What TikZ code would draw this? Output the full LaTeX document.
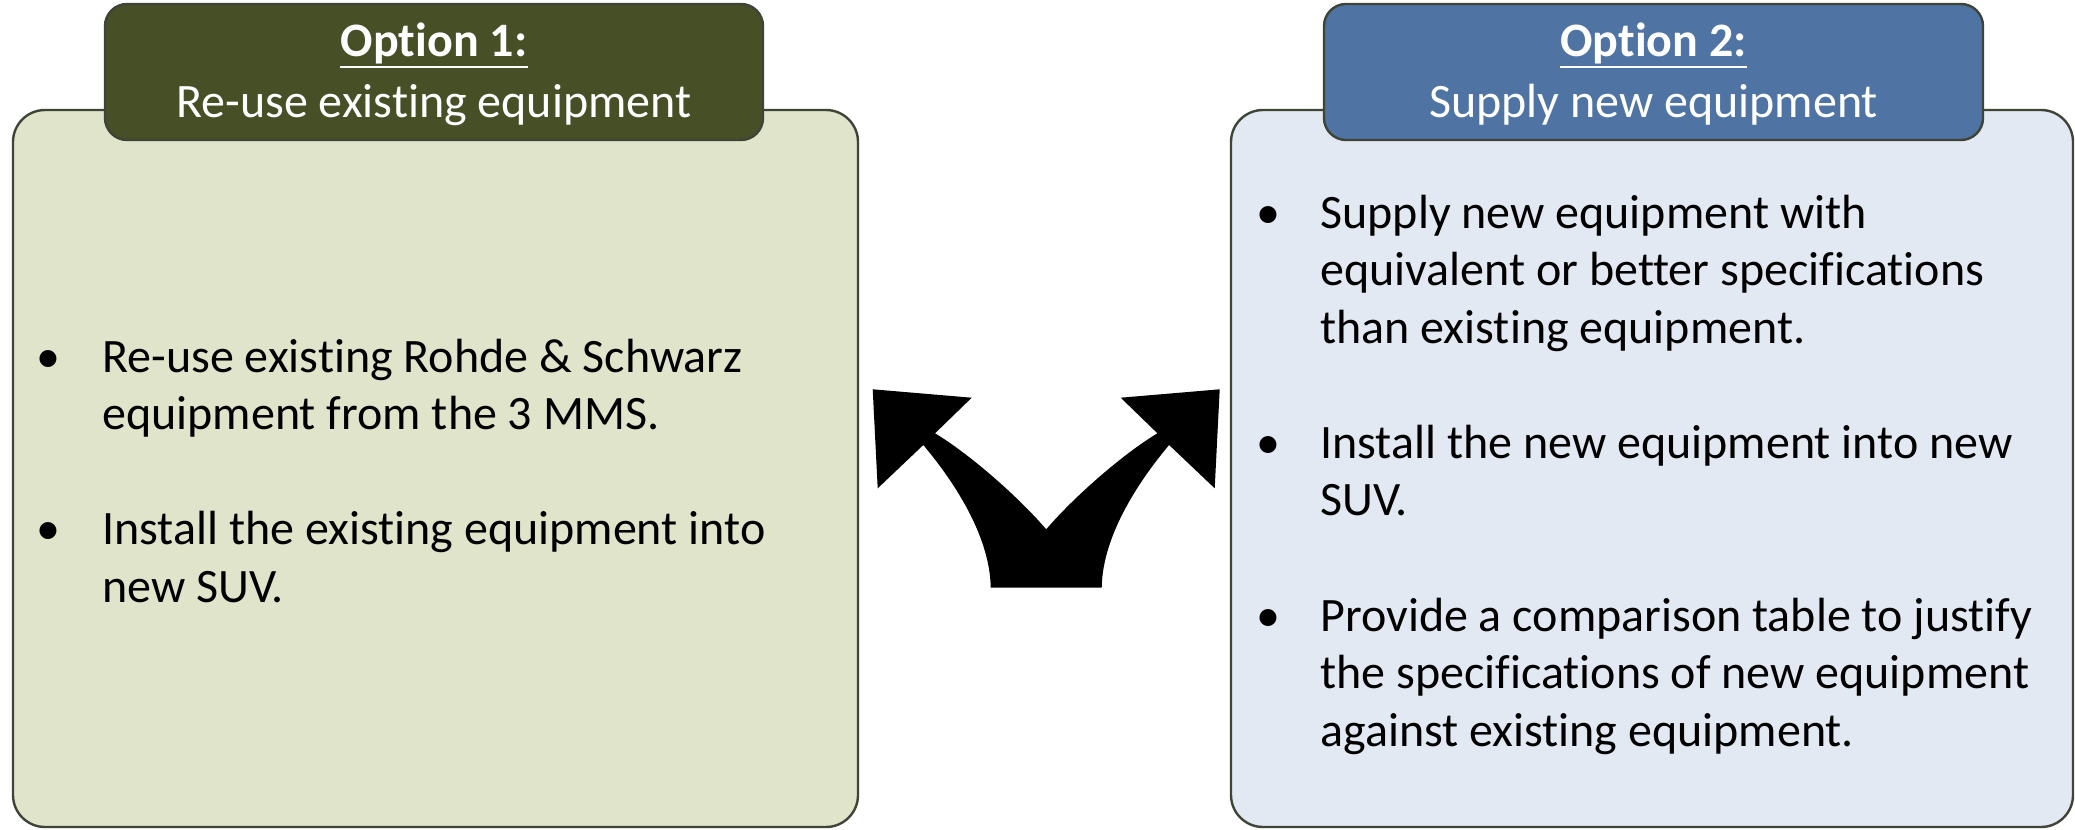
\documentclass[tikz,border=0pt]{standalone}
\usepackage{fontspec}
\setmainfont{Carlito}[Ligatures=NoCommon]
\usepackage{tikz}

\definecolor{oliveHead}{RGB}{71,79,39}
\definecolor{oliveBody}{RGB}{223,228,203}
\definecolor{blueHead}{RGB}{79,116,163}
\definecolor{blueBody}{RGB}{227,233,242}
\definecolor{edgeGray}{RGB}{62,68,55}

\tikzset{
  bodybox/.style={draw=edgeGray, line width=1.2pt, rounded corners=16pt},
  headbox/.style={draw=edgeGray, line width=1.2pt, rounded corners=11pt},
  headtext/.style={text=white, anchor=base, inner sep=0pt, font=\fontsize{24}{28}\selectfont},
  itemtext/.style={anchor=base west, align=left, inner sep=0pt, font=\fontsize{24}{28.75}\selectfont},
  dot/.style={anchor=base, inner sep=0pt, font=\fontsize{24}{28.75}\selectfont},
}

\begin{document}
\begin{tikzpicture}[x=0.5pt, y=-0.5pt]
\useasboundingbox (0,0) rectangle (2075,829);

% option 1
\draw[bodybox, fill=oliveBody] (13,110) rectangle (858,827);
\draw[headbox, fill=oliveHead] (105,4) rectangle (763,140);
\node[headtext] (opt1) at (434,57) {\textbf{Option 1:}};
\draw[white, line width=1.2pt] ([yshift=-5pt]opt1.base west) -- ([yshift=-5pt]opt1.base east);
\node[headtext] (title1) at (434,118) {Re-use existing equipment};

% item nodes sit on their last line
\node[dot] (b11) at (48,372) {•};
\node[itemtext] (i11) at (102,429.5) {Re-use existing Rohde \& Schwarz\\equipment from the 3 MMS.};
\node[dot] (b12) at (48,544.5) {•};
\node[itemtext] (i12) at (102,602) {Install the existing equipment into\\new SUV.};

% option 2
\draw[bodybox, fill=blueBody] (1231,110) rectangle (2073,827);
\draw[headbox, fill=blueHead] (1324,4) rectangle (1983,140);
\node[headtext] (opt2) at (1653.5,57) {\textbf{Option 2:}};
\draw[white, line width=1.2pt] ([yshift=-5pt]opt2.base west) -- ([yshift=-5pt]opt2.base east);
\node[headtext] (title2) at (1653.5,118) {Supply new equipment};

\node[dot] (b21) at (1268,228) {•};
\node[itemtext] (i21) at (1320,343) {Supply new equipment with\\equivalent or better specifications\\than existing equipment.};
\node[dot] (b22) at (1268,458) {•};
\node[itemtext] (i22) at (1320,515.5) {Install the new equipment into new\\SUV.};
\node[dot] (b23) at (1268,631) {•};
\node[itemtext] (i23) at (1320,746) {Provide a comparison table to justify\\the specifications of new equipment\\against existing equipment.};

% split arrow
\fill[black] (872.7,389.3) -- (971.7,397.7) -- (935,433.3)
  .. controls (968.3,453.3) and (1016.7,495) .. (1046.2,529.3)
  .. controls (1075.7,495) and (1124.1,453.3) .. (1157.4,433.3)
  -- (1120.7,397.7) -- (1219.7,389.3) -- (1214.7,488.3) -- (1169.1,445)
  .. controls (1142.4,476.7) and (1102.4,533.3) .. (1101.7,587.7)
  -- (990.7,587.7)
  .. controls (990,533.3) and (950,476.7) .. (923.3,445)
  -- (877.7,488.3) -- cycle;
\end{tikzpicture}
\end{document}
